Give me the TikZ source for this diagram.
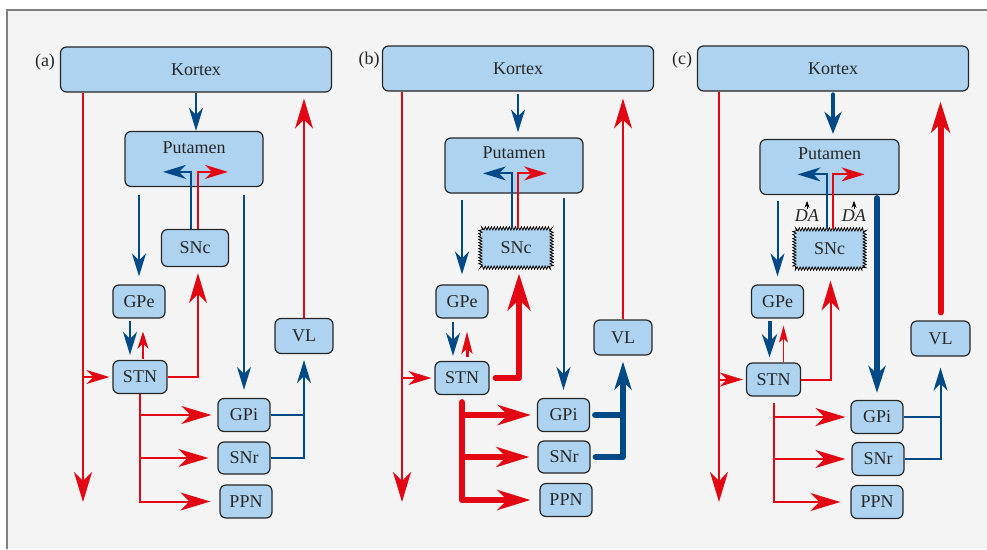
\documentclass[tikz,border=0pt]{standalone}
\usepackage{fontspec}
\setmainfont{Liberation Serif}
\usetikzlibrary{arrows.meta,decorations.pathmorphing}
\definecolor{boxblue}{RGB}{174,211,240}
\definecolor{nblue}{RGB}{0,73,135}
\definecolor{nred}{RGB}{227,6,19}
\definecolor{panelgray}{RGB}{244,244,244}
\tikzset{
  bigtip/.tip={Stealth[length=30pt,width=18pt,inset=9pt]},
  midtip/.tip={Stealth[length=23pt,width=14pt,inset=7pt]},
  smalltip/.tip={Stealth[length=17pt,width=11pt,inset=5pt]},
  hugetip/.tip={Stealth[length=37pt,width=23pt,inset=11pt]},
  treetip/.tip={Stealth[length=33pt,width=20pt,inset=10pt]},
  fattip/.tip={Stealth[length=28pt,width=17pt,inset=8pt]},
  datip/.tip={Stealth[length=7pt,width=5pt,inset=2pt]},
}
% zigzag outline round a (filled) node
\newcommand\jagbox[1]{\draw[jagline] ([yshift=-6pt]#1.north west) .. controls (#1.north west) .. ([xshift=6pt]#1.north west) -- ([xshift=-6pt]#1.north east) .. controls (#1.north east) .. ([yshift=-6pt]#1.north east) -- ([yshift=6pt]#1.south east) .. controls (#1.south east) .. ([xshift=-6pt]#1.south east) -- ([xshift=6pt]#1.south west) .. controls (#1.south west) .. ([yshift=6pt]#1.south west) -- cycle;}
\begin{document}
\begin{tikzpicture}[x=1pt,y=-1pt,
  every node/.style={font=\fontsize{18pt}{21pt}\selectfont, text=black!85},
  box/.style={draw=black!85, line width=1.2pt, fill=boxblue, rounded corners=6pt, minimum width=52pt, minimum height=33pt, inner sep=2pt},
  sickbox/.style={box, draw=none},
  jagline/.style={draw=black, line width=0.8pt, decorate, decoration={zigzag, amplitude=1.6pt, segment length=3pt}},
  rline/.style={draw=nred, line width=2pt},
  bline/.style={draw=nblue, line width=2pt},
  fat/.style={line width=6pt, line cap=round, line join=round}]

\useasboundingbox (0,0) rectangle (987,549);
\fill[panelgray] (7,10) rectangle (987,549);
\draw[gray, line width=1.2pt] (7,549) -- (7,10) -- (987,10);

% (a) normal
\begin{scope}
\node (la) at (45,62) {(a)};
\node[box, minimum width=271pt, minimum height=45pt] (Ka) at (196,69.5) {Kortex};
\node[box, minimum width=138pt, minimum height=55pt, label={[anchor=north, yshift=-7pt]north:Putamen}] (Pa) at (194,159) {};
\node[box, minimum width=67pt, minimum height=37pt] (Ca) at (195,248) {SNc};
\node[box] (Ea) at (139,301.5) {GPe};
\node[box, minimum width=54pt] (Sa) at (140,377) {STN};
\node[box, minimum width=58pt, minimum height=35pt] (Va) at (304,336) {VL};
\node[box] (Ia) at (244,415) {GPi};
\node[box, minimum height=32pt] (Ra) at (244,458) {SNr};
\node[box] (Na) at (246,501.5) {PPN};
\coordinate (La) at (83,502);

\draw[bline,-midtip] (Ka.south) -- (Ka.south |- Pa.north);
\draw[bline,-midtip] ([xshift=-4pt]Ca.north) -- ++(0,-57) -- ++(-28,0);
\draw[rline,-midtip] ([xshift=3pt]Ca.north) -- ++(0,-57) -- ++(30,0);
\draw[bline,-midtip,shorten <=8pt,shorten >=8pt] (Pa.south -| Ea.north) -- (Ea.north);
\draw[bline,-midtip,shorten <=8pt,shorten >=8pt] (Pa.south -| Ia.north) -- (Ia.north);
\draw[rline,-bigtip] (La |- Ka.south) -- (La);
\draw[rline,-midtip,shorten >=3pt] (La |- Sa.west) -- (Sa.west);
\draw[rline,-bigtip,shorten >=6pt] (Va.north) -- (Va.north |- Ka.south);
\draw[bline,-midtip,shorten <=2pt,shorten >=5pt] ([xshift=-9pt]Ea.south) -- ([xshift=-9pt]Ea.south |- Sa.north);
\draw[rline,-smalltip,shorten <=1pt,shorten >=13pt] ([xshift=4pt]Ea.south |- Sa.north) -- ([xshift=4pt]Ea.south);
\draw[rline,-bigtip,shorten >=6pt] (Sa.east) -| ([xshift=3pt]Ca.south);
\draw[rline,-bigtip,shorten >=9pt] (Sa.south) |- (Na.west);
\draw[rline,-bigtip,shorten >=6pt] (Sa.south |- Ia.west) -- (Ia.west);
\draw[rline,-bigtip,shorten >=9pt] (Sa.south |- Ra.west) -- (Ra.west);
\draw[bline] (Ia.east) -- (Ia.east -| Va.south);
\draw[bline,-midtip,shorten >=6pt] (Ra.east) -| (Va.south);
\end{scope}

% (b) SNc lost
\begin{scope}[xshift=321pt]
\node (lb) at (48,60) {(b)};
\node[box, minimum width=271pt, minimum height=45pt] (Kb) at (197,68.5) {Kortex};
\node[box, minimum width=138pt, minimum height=55pt, label={[anchor=north, yshift=-6pt]north:Putamen}] (Pb) at (193,165.5) {};
\node[sickbox, minimum width=70pt, minimum height=38pt] (Cb) at (195,248) {SNc};
\jagbox{Cb}
\node[box] (Eb) at (141,301.5) {GPe};
\node[box, minimum width=54pt] (Sb) at (141,378) {STN};
\node[box, minimum width=58pt, minimum height=35pt] (Vb) at (302,337.5) {VL};
\node[box] (Ib) at (242.5,415) {GPi};
\node[box, minimum height=32pt] (Rb) at (243,457) {SNr};
\node[box] (Nb) at (245,500) {PPN};
\coordinate (Lb) at (81,502);

\draw[bline,-midtip,shorten <=2pt,shorten >=5pt] (Kb.south) -- (Kb.south |- Pb.north);
\draw[bline,-midtip] ([xshift=-4pt]Cb.north) -- ++(0,-55) -- ++(-29,0);
\draw[rline,-midtip] ([xshift=2pt]Cb.north) -- ++(0,-55) -- ++(29,0);
\draw[bline,-midtip,shorten <=6pt,shorten >=10pt] (Pb.south -| Eb.north) -- (Eb.north);
\draw[bline,-midtip,shorten <=4pt,shorten >=8pt] (Pb.south -| Ib.north) -- (Ib.north);
\draw[rline,-bigtip] (Lb |- Kb.south) -- (Lb);
\draw[rline,-midtip,shorten >=3pt] (Lb |- Sb.west) -- (Sb.west);
\draw[rline,-bigtip,shorten >=7pt] (Vb.north) -- (Vb.north |- Kb.south);
\draw[bline,-midtip,shorten <=3pt,shorten >=5pt] ([xshift=-9pt]Eb.south) -- ([xshift=-9pt]Eb.south |- Sb.north);
\draw[rline,line width=3pt,-{Stealth[length=22pt,width=11pt,inset=5pt]},shorten <=4pt,shorten >=13pt] ([xshift=5pt]Eb.south |- Sb.north) -- ([xshift=5pt]Eb.south);
\draw[draw=nred,fat,-hugetip,shorten <=6pt,shorten >=6pt] (Sb.east) -| ([xshift=3pt]Cb.south);
\draw[draw=nred,fat,-treetip,shorten <=7pt,shorten >=9pt] (Sb.south) |- (Nb.west);
\draw[draw=nred,fat,-treetip,shorten >=6pt] (Sb.south |- Ib.west) -- (Ib.west);
\draw[draw=nred,fat,-treetip,shorten >=8pt] (Sb.south |- Rb.west) -- (Rb.west);
\draw[draw=nblue,fat,shorten <=5pt] (Ib.east) -- (Ib.east -| Vb.south);
\draw[draw=nblue,fat,-fattip,shorten <=5pt,shorten >=6pt] (Rb.east) -| (Vb.south);
\end{scope}

% (c) with DA
\begin{scope}[xshift=636pt]
\node (lc) at (46,60) {(c)};
\node[box, minimum width=271pt, minimum height=45pt] (Kc) at (197,68.5) {Kortex};
\node[box, minimum width=139pt, minimum height=55pt, label={[anchor=north, yshift=-5pt]north:Putamen}] (Pc) at (193.5,167) {};
\node[sickbox, minimum width=69pt, minimum height=38pt] (Cc) at (193.5,249) {SNc};
\jagbox{Cc}
\node[box] (Ec) at (141.5,301.5) {GPe};
\node[box, minimum width=54pt] (Sc) at (137.5,379.5) {STN};
\node[box, minimum width=59pt, minimum height=35pt] (Vc) at (304.5,338.5) {VL};
\node[box] (Ic) at (241,417) {GPi};
\node[box, minimum height=33pt] (Rc) at (242,459) {SNr};
\node[box] (Nc) at (241,502) {PPN};
\node[inner sep=1pt] (Dc1) at (171,216) {\textit{DA}};
\node[inner sep=1pt] (Dc2) at (218,216) {\textit{DA}};
\coordinate (Lc) at (83,502);

\draw[-datip, line width=0.6pt] (Dc1.north) -- ([yshift=8pt]Dc1.north);
\draw[-datip, line width=0.6pt] (Dc2.north) -- ([yshift=8pt]Dc2.north);
\draw[draw=nblue,line width=4.5pt,line cap=round,-{Stealth[length=22pt,width=17pt,inset=7pt]},shorten <=3pt,shorten >=5pt] (Kc.south) -- (Kc.south |- Pc.north);
\draw[bline,-midtip] ([xshift=-3pt]Cc.north) -- ++(0,-55) -- ++(-29,0);
\draw[rline,-midtip] ([xshift=3pt]Cc.north) -- ++(0,-55) -- ++(32,0);
\draw[bline,-midtip,shorten <=6pt,shorten >=8pt] (Pc.south -| Ec.north) -- (Ec.north);
\draw[draw=nblue,fat,-{Stealth[length=27pt,width=17pt,inset=8pt]},shorten <=3pt,shorten >=7pt] (Pc.south -| Ic.north) -- (Ic.north);
\draw[rline,-bigtip] (Lc |- Kc.south) -- (Lc);
\draw[rline,-midtip,shorten >=3pt] (Lc |- Sc.west) -- (Sc.west);
\draw[draw=nred,fat,-{Stealth[length=31pt,width=19pt,inset=9pt]},shorten <=8pt,shorten >=10pt] (Vc.north) -- (Vc.north |- Kc.south);
\draw[draw=nblue,line width=4pt,-{Stealth[length=23pt,width=15pt,inset=7pt]},shorten <=2pt,shorten >=5pt] ([xshift=-8pt]Ec.south) -- ([xshift=-8pt]Ec.south |- Sc.north);
\draw[rline,line width=1.3pt,-{Stealth[length=17pt,width=9pt,inset=4pt]},shorten >=7pt] ([xshift=6pt]Ec.south |- Sc.north) -- ([xshift=6pt]Ec.south);
\draw[rline,-bigtip,shorten >=12pt] (Sc.east) -| ([xshift=1pt]Cc.south);
\draw[rline,-bigtip,shorten <=6pt,shorten >=10pt] (Sc.south) |- (Nc.west);
\draw[rline,-bigtip,shorten >=5pt] (Sc.south |- Ic.west) -- (Ic.west);
\draw[rline,-bigtip,shorten >=6pt] (Sc.south |- Rc.west) -- (Rc.west);
\draw[bline] (Ic.east) -- (Ic.east -| Vc.south);
\draw[bline,-midtip,shorten >=11pt] (Rc.east) -| (Vc.south);
\end{scope}
\end{tikzpicture}
\end{document}
